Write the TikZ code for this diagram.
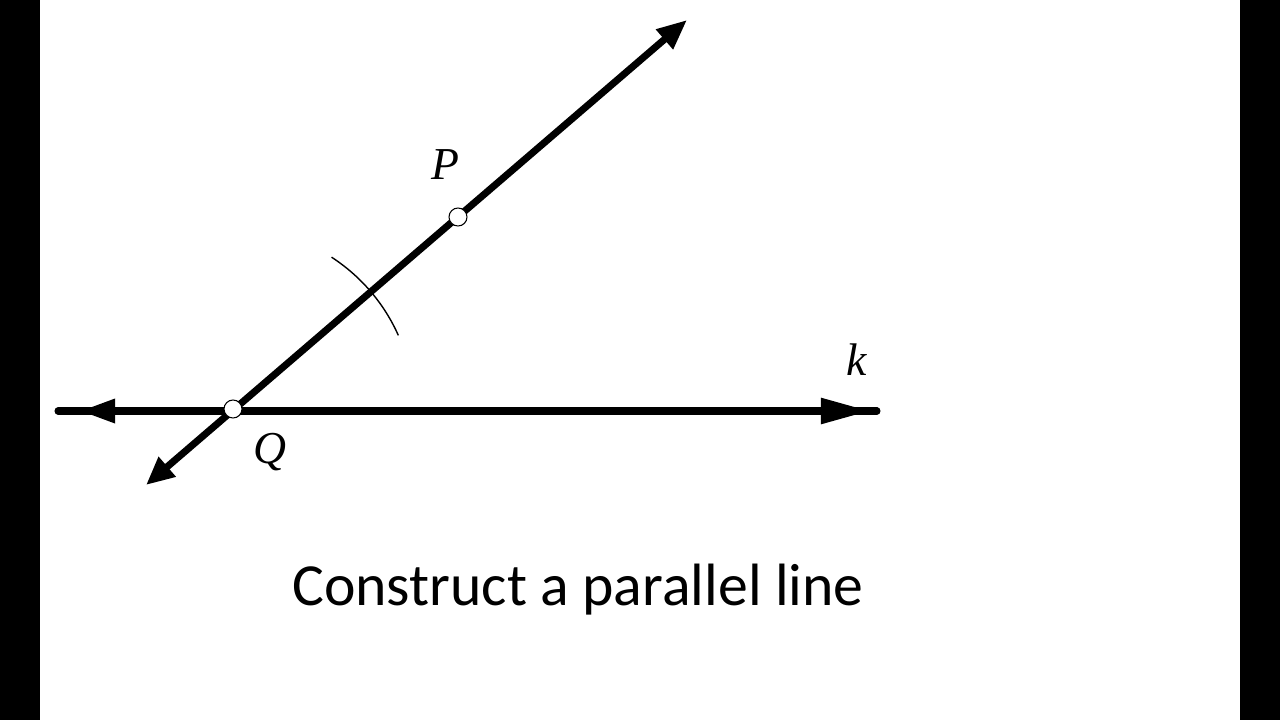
\documentclass[tikz,border=0pt]{standalone}
\usepackage{fontspec}
\setmainfont{Carlito}
\newfontfamily\timesfont{Liberation Serif}
\usetikzlibrary{arrows.meta,decorations.markings}

\tikzset{
  ray/.style={line width=4pt, line cap=round},
  dot/.style={circle, draw, fill=white, inner sep=0pt, minimum size=0.36cm, line width=0.6pt},
  lab/.style={font=\fontsize{26}{28}\selectfont\timesfont\itshape}
}

\begin{document}
\begin{tikzpicture}[x=0.02cm, y=-0.02cm]
  \fill[black] (0,0) rectangle (40,720);
  \fill[black] (1240,0) rectangle (1280,720);
  \useasboundingbox (0,0) rectangle (1280,720);

  % points of the construction
  \coordinate (kL) at (58,411);
  \coordinate (kR) at (877,411);
  \coordinate (Q) at (233,409);
  \coordinate (P) at (458,217);
  \coordinate (top) at (687,20);
  \coordinate (bot) at (146,485);

  % line k
  \draw[ray, postaction={decorate}, decoration={markings,
      mark=at position 0.44cm with {\arrowreversed{Triangle[length=20pt, width=13pt]}},
      mark=at position -0.14cm with {\arrow{Triangle[length=28pt, width=14pt]}}}]
    (kL) -- (kR);

  % transversal through Q and P
  \draw[ray, {Triangle[length=16pt, width=14pt]}-{Triangle[length=17pt, width=14pt]}] (bot) -- (top);

  % compass arc
  \draw[line width=0.8pt] (Q) ++(-57:181) arc[start angle=-57, end angle=-24, radius=181];

  \node[dot] (Qd) at (Q) {};
  \node[dot] (Pd) at (P) {};

  \node[lab] (Plab) at (445,165) {P};
  \node[lab] (Qlab) at (270,452) {Q};
  \node[lab] (klab) at (857,360) {k};

  \node[font=\fontsize{34}{40}\selectfont] (title) at (578,590) {Construct a parallel line};
\end{tikzpicture}
\end{document}
